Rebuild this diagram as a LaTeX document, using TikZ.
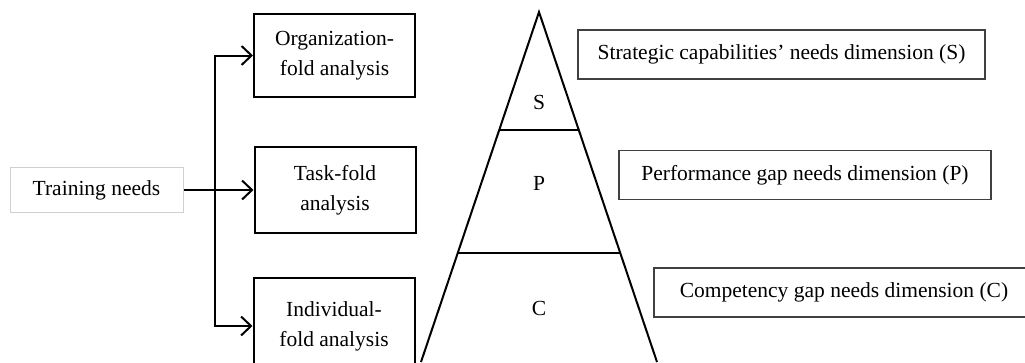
\documentclass[tikz,border=0pt]{standalone}
\usepackage{fontspec}
\setmainfont{Liberation Serif}
\usetikzlibrary{arrows.meta,calc}
\definecolor{needgray}{HTML}{D0D0D0}
\definecolor{dimgray}{HTML}{404040}

\begin{document}
\begin{tikzpicture}[x=1pt,y=-1pt,
  txt/.style={font=\fontsize{21.5}{30}\selectfont},
  foldbox/.style={txt,draw,line width=2pt,minimum width=161pt,align=center,inner sep=0pt},
  dimbox/.style={txt,draw=dimgray,line width=1.5pt,minimum height=49pt,inner sep=0pt},
  flow/.style={line width=2pt,-{Straight Barb[length=10pt,width=19pt,line width=2pt]}}]
  \useasboundingbox (0,0) rectangle (1025,362);
  \clip (0,0) rectangle (1025,362);
  % left: training needs and the three folds
  \node[txt,draw=needgray,line width=1pt,minimum width=173pt,minimum height=45pt,inner sep=0pt]
    (train) at (96.5,190) {Training needs};
  \node[foldbox,minimum height=83pt] (org) at (334.5,55.5) {Organization-\\fold analysis};
  \node[foldbox,minimum height=86pt] (task) at (335,190) {Task-fold\\analysis};
  \node[foldbox,minimum height=96pt] (indiv) at (334,326) {Individual-\\fold analysis};
  \coordinate (spine) at (215,190);
  \draw[flow] (train.east) -- (task.west);
  \draw[flow] (spine) |- (org.west);
  \draw[flow] (spine) |- (indiv.west);
  % pyramid
  \coordinate (apex) at (539,12);
  \coordinate (bl) at (421,362);
  \coordinate (br) at (657,362);
  \draw[line width=2pt] (bl) -- (apex) -- (br);
  \draw[line width=2pt] ($(apex)!0.337!(bl)$) -- ($(apex)!0.337!(br)$);
  \draw[line width=2pt] ($(apex)!0.689!(bl)$) -- ($(apex)!0.689!(br)$);
  \node[txt] (s) at (539,102) {S};
  \node[txt] (p) at (539,183) {P};
  \node[txt] (c) at (539,308) {C};
  % dimensions
  \node[dimbox,minimum width=407pt] (sdim) at (781.5,54.5) {Strategic capabilities’ needs dimension (S)};
  \node[dimbox,minimum width=372pt] (pdim) at (805,175) {Performance gap needs dimension (P)};
  \node[dimbox,minimum width=380pt] (cdim) at (844,292.5) {Competency gap needs dimension (C)};
\end{tikzpicture}
\end{document}
